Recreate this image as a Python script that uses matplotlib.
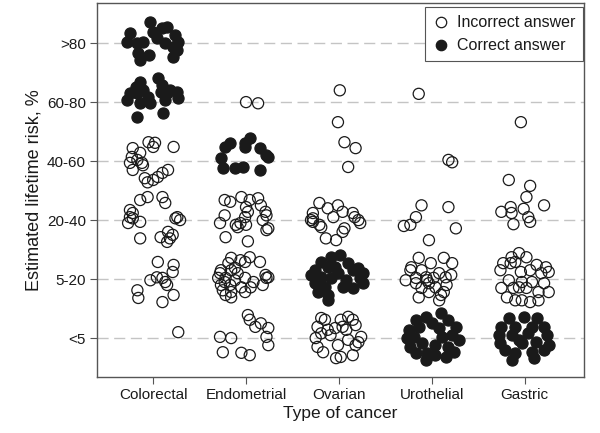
import matplotlib
matplotlib.use("Agg")
import matplotlib.pyplot as plt
from matplotlib.lines import Line2D

plt.rcParams['font.family'] = ['Liberation Sans', 'DejaVu Sans']

cancer_types = ["Colorectal", "Endometrial", "Ovarian", "Urothelial", "Gastric"]
risk_labels = ["<5", "5-20", "20-40", "40-60", "60-80", ">80"]

# Jitter, in hundredths of a category / risk band.
crc_gt80_c_dx = [-3, 10, 15, -25, 24, -28, -17, -11, 4, 27, 13, 21, -16, -5, -14, 21, 26, 0]
crc_gt80_c_dy = [36, 25, 27, 17, 14, 2, 0, 2, 8, 2, 0, -7, -17, -20, -29, -24, -12, 19]
crc_6080_c_dx = [-14, -19, 5, 10, -25, -17, -6, -3, -28, -14, 8, 15, 26, 27, 13, -17, 11, 18, -11]
crc_6080_c_dy = [34, 25, 41, 29, 15, 15, 8, -2, 3, -2, 17, 15, 17, 7, 3, -25, -19, 20, 20]
crc_4060_i_dx = [-5, 2, 0, 22, -22, -14, -23, -17, -25, -12, -22, -11, 16, 10, 5, 0, -6, -9]
crc_4060_i_dy = [32, 31, 24, 24, 22, 14, 7, 2, -3, -3, -15, -7, -15, -20, -27, -32, -36, -29]
crc_2040_i_dx = [-14, -6, 10, 13, -25, -22, 26, -25, -22, -14, -27, 24, 29, -14, 8, 16, 21, 15, 18]
crc_2040_i_dy = [34, 39, 39, 29, 17, 12, 5, 5, 3, -3, -5, 3, 0, -31, -29, -20, -25, -37, -31]
crc_520_i_dx = [5, 22, 21, -3, 4, 10, 13, 15, -17, -16, 10, 22]
crc_520_i_dy = [29, 24, 12, -2, 3, 2, -5, -10, -19, -32, -39, -27]
crc_lt5_i_dx = [27]
crc_lt5_i_dy = [10]

endo_6080_i_dx = [0, 13]
endo_6080_i_dy = [0, -2]
endo_4060_c_dx = [-17, -23, 4, -1, 15, 24, 21, -27, -25, -12, -3, 15, -1]
endo_4060_c_dy = [31, 24, 39, 24, 22, 7, 10, 5, -12, -12, -10, -15, 31]
endo_2040_i_dx = [-23, -17, -5, 4, 13, 0, 16, 2, 21, -23, 22, -1, -28, -6, 0, -9, 24, -11, -22, 2, 22, 18]
endo_2040_i_dy = [34, 31, 39, 34, 37, 22, 25, 14, 14, 8, 8, 5, -5, -5, -8, -12, -14, -8, -29, -36, -17, 0]
endo_520_i_dx = [-16, -6, 4, 15, -1, -19, -27, -16, -9, -30, -22, -12, -1, 8, 21, 24, 22, -27, -17, -5,
                 5, 18, -25, -16, -1, -22, -16, -28, -12, -23]
endo_520_i_dy = [36, 32, 37, 29, 29, 27, 15, 15, 10, 2, 2, -2, 2, -5, 7, 3, 2, -10, -10, -14,
                 -14, -10, -19, -22, -22, -27, -31, 10, 19, -5]
endo_lt5_i_dx = [2, 4, 16, 10, 24, 22, 24, -28, -16, -25, -5, 4]
endo_lt5_i_dy = [39, 31, 25, 19, 17, 2, -12, 2, 0, -24, -25, -29]

ova_6080_i_dx = [1, -1]
ova_6080_i_dy = [20, -34]
ova_4060_i_dx = [6, 18, 10]
ova_4060_i_dy = [32, 22, -10]
ova_2040_i_dx = [-21, -12, -1, 4, -6, -28, -28, -30, 15, 17, 21, 23, -21, 6, -28, -19, -14, -3, 4]
ova_2040_i_dy = [29, 20, 25, 14, 5, 12, 3, 0, 12, 5, 0, -5, -8, -14, -3, -12, -31, -34, -20]
ova_520_c_dx = [-19, -9, 1, 10, 21, 26, -26, -30, -19, -9, -1, -26, -15, -12, -23, 4, 15, 26, 23, -12, -4, 8, -12, 15]
ova_520_c_dy = [29, 37, 41, 27, 19, 10, 15, 7, 3, 2, 10, -7, -14, -27, -22, -14, -15, -7, 2, -36, 20, -2, 20, 15]
ova_lt5_i_dx = [-19, -15, 2, 10, 15, 18, -23, -12, -4, 4, 8, -19, -9, -25, 24, 10, -1, -23, 18, -17, 2, -3, 15, 21]
ova_lt5_i_dy = [34, 31, 31, 36, 31, 22, 19, 14, 17, 19, 14, 8, 5, 0, 2, -3, -12, -15, -12, -24, -32, -34, -29, -7]

uro_6080_i_dx = [-14]
uro_6080_i_dy = [14]
uro_4060_i_dx = [18, 22]
uro_4060_i_dy = [2, -2]
uro_2040_i_dx = [-11, 18, -17, -23, 26, -3, -30]
uro_2040_i_dy = [25, 22, 5, -8, -14, -34, -10]
uro_520_i_dx = [-14, 13, 22, -1, -22, -23, -11, 8, 21, -28, -17, -6, 2, 15, -17, -3, 16, -11, 4, 13, -3, -14, 8, 10, -5]
uro_520_i_dy = [36, 36, 27, 27, 20, 15, 15, 10, 7, -2, 2, 3, 2, 3, -7, -7, -10, -15, -14, -22, -22, -31, -36, -27, -2]
uro_lt5_c_dx = [-17, -6, 10, 18, 26, -25, -14, 8, 22, -27, 29, -23, -17, -6, 4, 15, 24, 18, 11, 0, 4, -11, -19, -5]
uro_lt5_c_dy = [31, 36, 42, 31, 19, 14, 19, 17, 5, 0, -3, -15, -25, -37, -29, -32, -24, -15, 2, 25, -12, -8, 2, -25]

gas_6080_i_dx = [-4]
gas_6080_i_dy = [-34]
gas_4060_i_dx = [-17, 6]
gas_4060_i_dy = [-32, -42]
gas_2040_i_dx = [2, 21, -25, -15, -1, -14, 4, -12, 6]
gas_2040_i_dy = [39, 25, 14, 22, 19, 12, 5, -7, -3]
gas_520_i_dx = [-6, 2, -14, -23, -15, -10, 13, 23, 26, -26, -4, 6, 18, -17, -3, 8, 21, -6, -25, -12,
                2, 15, 26, -19, -10, -3, 6, 15]
gas_520_i_dy = [44, 37, 37, 27, 27, 29, 24, 20, 12, 15, 12, 15, 10, -2, -5, -5, -7, -14, -15, -15,
                -15, -22, -22, -31, -36, -36, -39, -36]
gas_lt5_c_dx = [-17, -1, 13, -25, -10, 8, 21, -28, -14, 4, 24, -26, -6, 12, 26, -21, -10, 8, 21, -14, 10, -3]
gas_lt5_c_dy = [34, 36, 34, 19, 19, 19, 19, 5, 5, 8, 5, -8, -3, -7, -12, -20, -25, -24, -20, -37, -34, -8]

# (cancer index, risk index, correct answer?, x jitter, y jitter)
groups = [
    (0, 5, True, crc_gt80_c_dx, crc_gt80_c_dy),
    (0, 4, True, crc_6080_c_dx, crc_6080_c_dy),
    (0, 3, False, crc_4060_i_dx, crc_4060_i_dy),
    (0, 2, False, crc_2040_i_dx, crc_2040_i_dy),
    (0, 1, False, crc_520_i_dx, crc_520_i_dy),
    (0, 0, False, crc_lt5_i_dx, crc_lt5_i_dy),
    (1, 4, False, endo_6080_i_dx, endo_6080_i_dy),
    (1, 3, True, endo_4060_c_dx, endo_4060_c_dy),
    (1, 2, False, endo_2040_i_dx, endo_2040_i_dy),
    (1, 1, False, endo_520_i_dx, endo_520_i_dy),
    (1, 0, False, endo_lt5_i_dx, endo_lt5_i_dy),
    (2, 4, False, ova_6080_i_dx, ova_6080_i_dy),
    (2, 3, False, ova_4060_i_dx, ova_4060_i_dy),
    (2, 2, False, ova_2040_i_dx, ova_2040_i_dy),
    (2, 1, True, ova_520_c_dx, ova_520_c_dy),
    (2, 0, False, ova_lt5_i_dx, ova_lt5_i_dy),
    (3, 4, False, uro_6080_i_dx, uro_6080_i_dy),
    (3, 3, False, uro_4060_i_dx, uro_4060_i_dy),
    (3, 2, False, uro_2040_i_dx, uro_2040_i_dy),
    (3, 1, False, uro_520_i_dx, uro_520_i_dy),
    (3, 0, True, uro_lt5_c_dx, uro_lt5_c_dy),
    (4, 4, False, gas_6080_i_dx, gas_6080_i_dy),
    (4, 3, False, gas_4060_i_dx, gas_4060_i_dy),
    (4, 2, False, gas_2040_i_dx, gas_2040_i_dy),
    (4, 1, False, gas_520_i_dx, gas_520_i_dy),
    (4, 0, True, gas_lt5_c_dx, gas_lt5_c_dy),
]

ink = "#1a1a1a"
frame = "#555555"

fig = plt.figure(figsize=(6.0, 4.33), dpi=100)
ax = fig.add_axes([97 / 600, 56 / 433, 487 / 600, 374 / 433])

for lvl in range(len(risk_labels)):
    ax.axhline(lvl, color="#c4c4c4", lw=1.0, dashes=(8, 4), zorder=0)

for ci, ri, correct, dxs, dys in groups:
    xs = [ci + d / 100 for d in dxs]
    ys = [ri + d / 100 for d in dys]
    if correct:
        ax.scatter(xs, ys, s=64, facecolors=ink, edgecolors=ink, linewidths=0.9, zorder=3)
    else:
        ax.scatter(xs, ys, s=64, facecolors="none", edgecolors=ink, linewidths=0.9, zorder=3)

ax.set_xlim(-0.605, 4.64)
ax.set_ylim(-0.66, 5.68)
ax.set_xticks(range(len(cancer_types)))
ax.set_xticklabels(cancer_types)
ax.set_yticks(range(len(risk_labels)))
ax.set_yticklabels(risk_labels)
ax.tick_params(axis="both", direction="out", length=5, width=0.8, color=frame,
               labelsize=11, labelcolor=ink, pad=3)
for sp in ax.spines.values():
    sp.set_color(frame)
    sp.set_linewidth(1.0)

ax.set_xlabel("Type of cancer", fontsize=12.5, color=ink, labelpad=3)
ax.set_ylabel("Estimated lifetime risk, %", fontsize=13, color=ink, labelpad=3)

handles = [
    Line2D([], [], ls="none", marker="o", markersize=7.5, markerfacecolor="none",
           markeredgecolor=ink, markeredgewidth=0.9, label="Incorrect answer"),
    Line2D([], [], ls="none", marker="o", markersize=7.5, markerfacecolor=ink,
           markeredgecolor=ink, markeredgewidth=0.9, label="Correct answer"),
]
leg = ax.legend(handles=handles, loc="upper right", bbox_to_anchor=(0.998, 0.988),
                borderaxespad=0, fancybox=False, framealpha=1, edgecolor=frame,
                fontsize=11.5, handlelength=1.0, handletextpad=0.5, labelspacing=0.5,
                borderpad=0.5)
leg.get_frame().set_linewidth(0.8)
for t in leg.get_texts():
    t.set_color(ink)

fig.savefig("out.png", dpi=100)
